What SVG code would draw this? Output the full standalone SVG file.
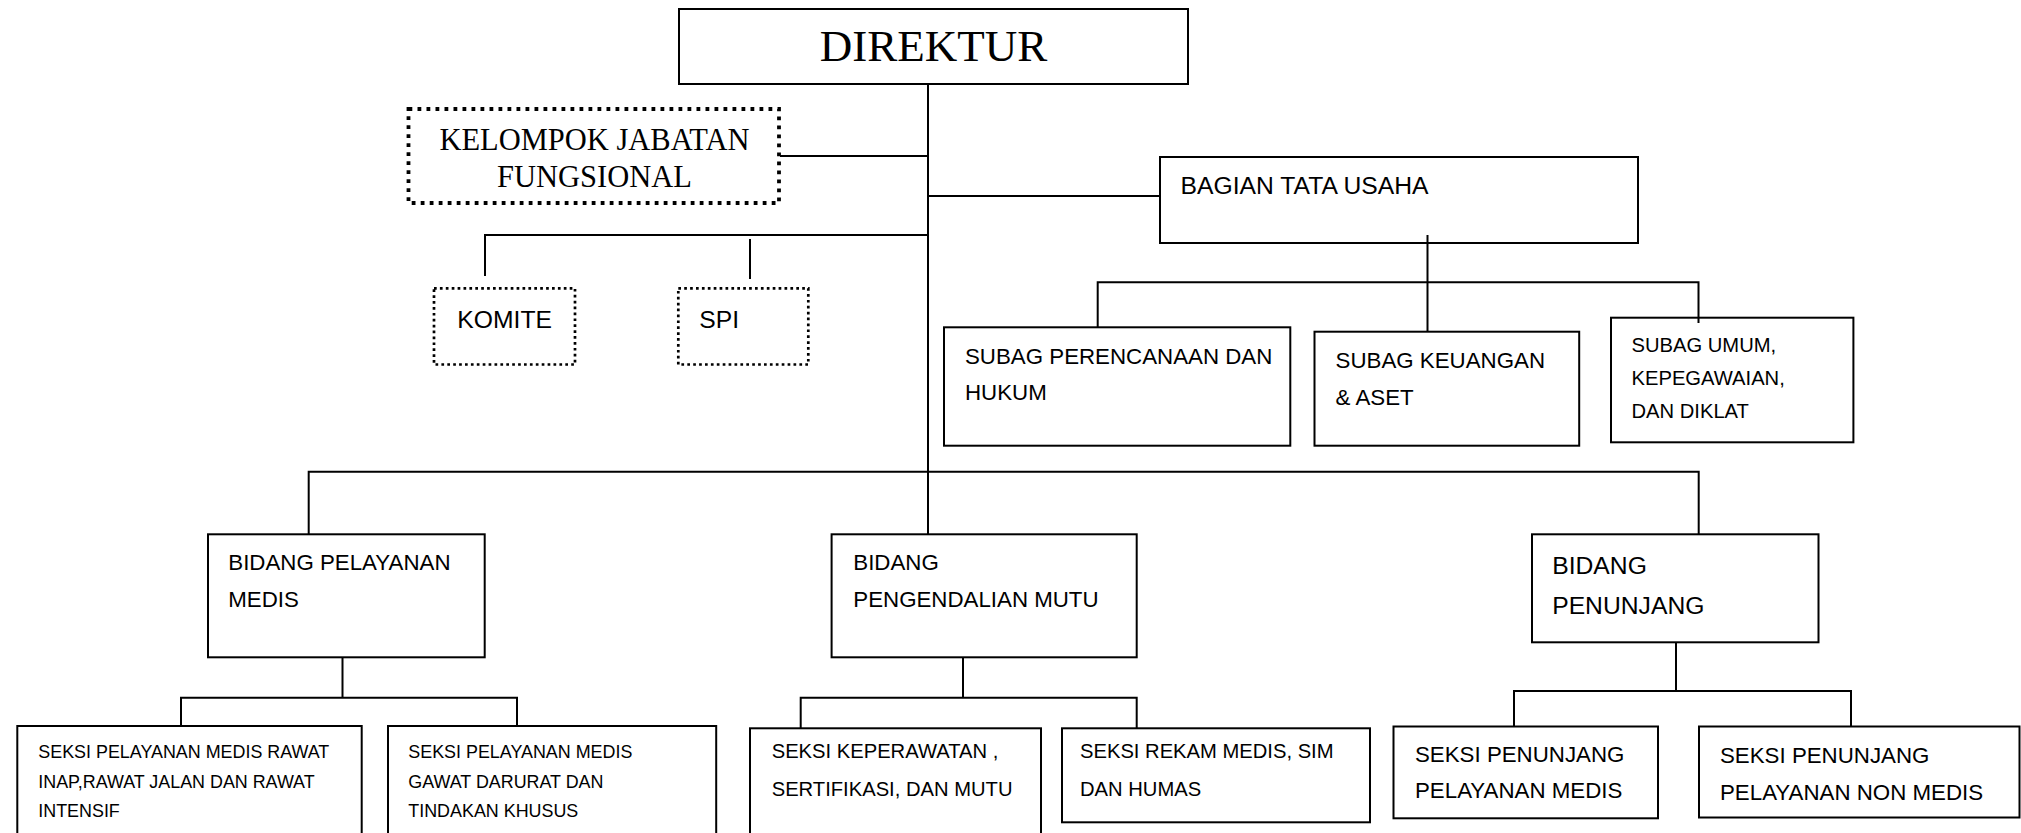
<svg xmlns="http://www.w3.org/2000/svg" width="2021" height="833" viewBox="0 0 2021 833">
<style>
.box{fill:#fff;stroke:#000;stroke-width:2}
.dotA{fill:#fff;stroke:#000;stroke-width:3.8;stroke-dasharray:3.8 5.2}
.dotB{fill:#fff;stroke:#000;stroke-width:2.7;stroke-dasharray:2.7 3.2}
.ln{fill:none;stroke:#000;stroke-width:2}
.serif{font-family:"Liberation Serif","Times New Roman",serif;fill:#000}
.t{font-family:"Liberation Sans",Arial,sans-serif;fill:#000}
.s22{font-size:24.7px}
.s20{font-size:22.3px}
.s18{font-size:20.2px}
.s16{font-size:17.9px}
</style>
<rect width="2021" height="833" fill="#fff"/>
<g id="direktur">
<rect class="box" x="679" y="9" width="509" height="75"/>
<text class="serif" x="933.5" y="61" font-size="45" text-anchor="middle">DIREKTUR</text>
</g>
<g id="kelompok">
<rect class="dotA" x="408.5" y="109" width="370.5" height="94"/>
<text class="serif" x="594.5" y="150" font-size="30.5" text-anchor="middle">KELOMPOK JABATAN</text>
<text class="serif" x="594.5" y="186.7" font-size="30.5" text-anchor="middle">FUNGSIONAL</text>
</g>
<g id="komite">
<rect class="dotB" x="434" y="288.3" width="141" height="76.2"/>
<text class="t s22" x="457.3" y="328.3">KOMITE</text>
</g>
<g id="spi">
<rect class="dotB" x="678.3" y="288.3" width="130" height="76.2"/>
<text class="t s22" x="699.3" y="327.7">SPI</text>
</g>
<g id="bagian-tata-usaha">
<rect class="box" x="1160" y="157" width="478" height="86"/>
<text class="t s22" x="1180.6" y="194">BAGIAN TATA USAHA</text>
</g>
<g id="subag-perencanaan">
<rect class="box" x="944" y="327.3" width="346.3" height="118.4"/>
<text class="t s20" x="965" y="364">SUBAG PERENCANAAN DAN</text>
<text class="t s20" x="965" y="400">HUKUM</text>
</g>
<g id="subag-keuangan">
<rect class="box" x="1314.5" y="331.7" width="264.7" height="114"/>
<text class="t s20" x="1335.6" y="368.3">SUBAG KEUANGAN</text>
<text class="t s20" x="1335.6" y="405">&amp; ASET</text>
</g>
<g id="subag-umum">
<rect class="box" x="1611" y="317.7" width="242.4" height="124.6"/>
<text class="t s18" x="1631.5" y="351.7">SUBAG UMUM,</text>
<text class="t s18" x="1631.5" y="385">KEPEGAWAIAN,</text>
<text class="t s18" x="1631.5" y="418">DAN DIKLAT</text>
</g>
<g id="bidang-pelayanan-medis">
<rect class="box" x="208" y="534.3" width="276.7" height="123"/>
<text class="t s20" x="228.3" y="570">BIDANG PELAYANAN</text>
<text class="t s20" x="228.3" y="606.7">MEDIS</text>
</g>
<g id="bidang-pengendalian-mutu">
<rect class="box" x="831.6" y="534.3" width="305.1" height="123"/>
<text class="t s20" x="853.3" y="570">BIDANG</text>
<text class="t s20" x="853.3" y="606.7">PENGENDALIAN MUTU</text>
</g>
<g id="bidang-penunjang">
<rect class="box" x="1532" y="534.3" width="286.5" height="108"/>
<text class="t s22" x="1552.2" y="574">BIDANG</text>
<text class="t s22" x="1552.2" y="614.3">PENUNJANG</text>
</g>
<g id="seksi-rawat-inap">
<rect class="box" x="17.3" y="726" width="344.4" height="124"/>
<text class="t s16" x="38.3" y="758.3">SEKSI PELAYANAN MEDIS RAWAT</text>
<text class="t s16" x="38.3" y="787.7">INAP,RAWAT JALAN DAN RAWAT</text>
<text class="t s16" x="38.3" y="816.7">INTENSIF</text>
</g>
<g id="seksi-gawat-darurat">
<rect class="box" x="388" y="726" width="328.2" height="124"/>
<text class="t s16" x="408.3" y="758.3">SEKSI PELAYANAN MEDIS</text>
<text class="t s16" x="408.3" y="787.7">GAWAT DARURAT DAN</text>
<text class="t s16" x="408.3" y="816.7">TINDAKAN KHUSUS</text>
</g>
<g id="seksi-keperawatan">
<rect class="box" x="750" y="728.3" width="291" height="122"/>
<text class="t s18" x="771.7" y="758.3">SEKSI KEPERAWATAN ,</text>
<text class="t s18" x="771.7" y="796">SERTIFIKASI, DAN MUTU</text>
</g>
<g id="seksi-rekam-medis">
<rect class="box" x="1062" y="728.3" width="308" height="94"/>
<text class="t s18" x="1080" y="758.3">SEKSI REKAM MEDIS, SIM</text>
<text class="t s18" x="1080" y="796">DAN HUMAS</text>
</g>
<g id="seksi-penunjang-medis">
<rect class="box" x="1393.5" y="726.5" width="264.5" height="91.8"/>
<text class="t s20" x="1415" y="761.7">SEKSI PENUNJANG</text>
<text class="t s20" x="1415" y="798.3">PELAYANAN MEDIS</text>
</g>
<g id="seksi-penunjang-non-medis">
<rect class="box" x="1699" y="726.5" width="320.5" height="91"/>
<text class="t s20" x="1720" y="763.3">SEKSI PENUNJANG</text>
<text class="t s20" x="1720" y="800">PELAYANAN NON MEDIS</text>
</g>
<g id="connectors">
<path class="ln" d="M928 84V534.3"/>
<path class="ln" d="M780 156H928"/>
<path class="ln" d="M928 196H1160"/>
<path class="ln" d="M485 276V235H928"/>
<path class="ln" d="M750 239V279"/>
<path class="ln" d="M1427.5 235V331.7"/>
<path class="ln" d="M1097.7 327.3V282.3H1698.5V323"/>
<path class="ln" d="M308.7 534.3V471.7H1698.7V534.3"/>
<path class="ln" d="M342.5 657.3V697.7"/>
<path class="ln" d="M181 726V697.7H517V726"/>
<path class="ln" d="M963 657.3V697.7"/>
<path class="ln" d="M800.7 728.3V697.7H1136.7V728.3"/>
<path class="ln" d="M1676 642.3V691"/>
<path class="ln" d="M1514 726.5V691H1851V726.5"/>
</g>
</svg>
